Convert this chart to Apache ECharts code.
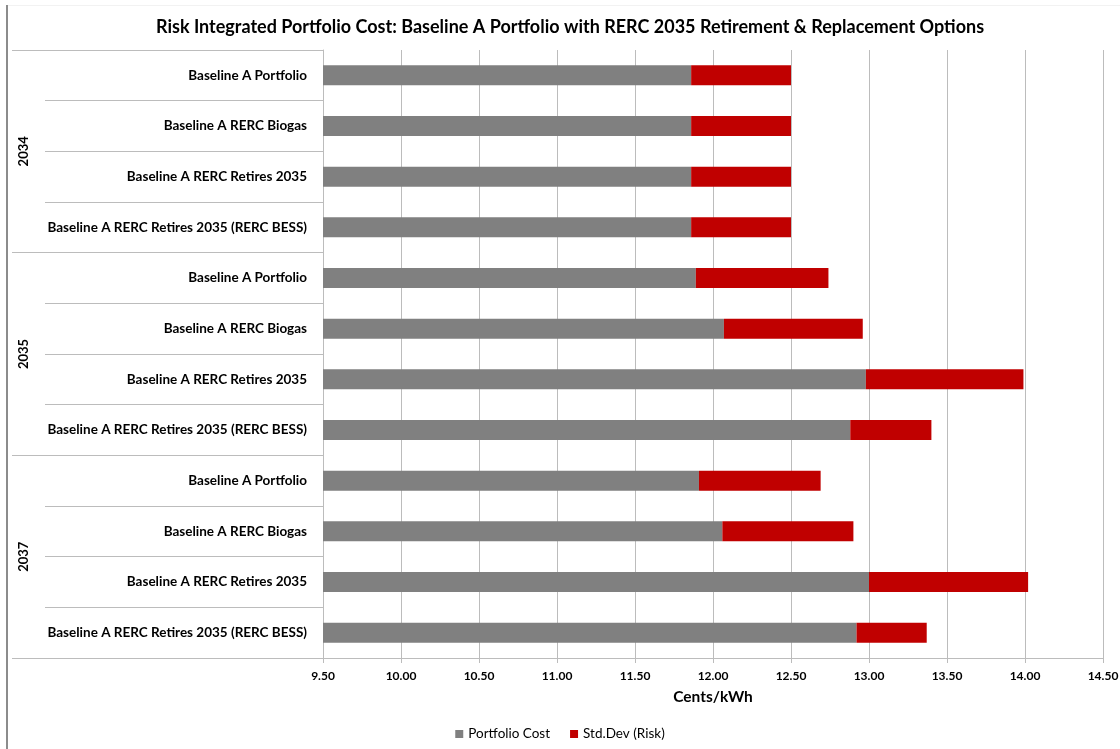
<!DOCTYPE html>
<html>
<head>
<meta charset="utf-8">
<script src="https://cdn.jsdelivr.net/npm/echarts@6/dist/echarts.min.js"></script>
<style>
  html, body { margin: 0; padding: 0; background: #fff; }
  #chart { position: absolute; left: 0; top: 0; width: 1120px; height: 749px; }
  #edge { position: absolute; left: 6px; top: 5px; width: 2px; height: 744px; background: #8c8c8c; }
  #topedge { position: absolute; left: 8px; top: 5px; width: 1112px; height: 1px; background: #f2f2f2; }
</style>
</head>
<body>
<div id="chart"></div>
<div id="edge"></div>
<div id="topedge"></div>
<script>
const years = ['2034', '2035', '2037'];
const options = ['Baseline A Portfolio', 'Baseline A RERC Biogas', 'Baseline A RERC Retires 2035', 'Baseline A RERC Retires 2035 (RERC BESS)'];
const portfolioCost = [11.86, 11.86, 11.86, 11.86, 11.89, 12.07, 12.98, 12.88, 11.91, 12.06, 13.00, 12.92];
const stdDevRisk = [0.64, 0.64, 0.64, 0.64, 0.85, 0.89, 1.01, 0.52, 0.78, 0.84, 1.02, 0.45];
const xTicks = { min: 9.5, max: 14.5, interval: 0.5 };

const catKeys = [];
years.forEach(y => options.forEach(o => catKeys.push(y + '|' + o)));

const FONT = 'Lato, "Open Sans", sans-serif';
const GRID_COLOR = '#bcbcbc';

const chart = echarts.init(document.getElementById('chart'));
chart.setOption({
  animation: false,
  textStyle: { fontFamily: FONT, color: '#000' },
  title: {
    text: 'Risk Integrated Portfolio Cost: Baseline A Portfolio with RERC 2035 Retirement & Replacement Options',
    left: 565, top: 13, textAlign: 'center',
    textStyle: { fontFamily: FONT, fontSize: 18, fontWeight: 'bold', color: '#000' }
  },
  legend: {
    top: 722, left: 'center',
    itemWidth: 8, itemHeight: 8, itemGap: 20,
    icon: 'rect',
    textStyle: { fontFamily: FONT, fontSize: 13.5, color: '#000' },
    data: ['Portfolio Cost', 'Std.Dev (Risk)']
  },
  grid: { left: 323, right: 17, top: 50, bottom: 91, containLabel: false, outerBoundsMode: 'none' },
  xAxis: {
    type: 'value',
    min: xTicks.min, max: xTicks.max, interval: xTicks.interval,
    name: 'Cents/kWh', nameLocation: 'middle', nameGap: 31,
    nameTextStyle: { fontFamily: FONT, fontSize: 15.5, fontWeight: 'bold', color: '#000' },
    axisLine: { show: true, lineStyle: { color: GRID_COLOR, width: 1 } },
    axisTick: { show: true, length: 5, lineStyle: { color: GRID_COLOR } },
    axisLabel: { formatter: v => v.toFixed(2), fontSize: 12, fontWeight: 'bold', color: '#000', margin: 12 },
    splitLine: { show: true, lineStyle: { color: GRID_COLOR, width: 1 } }
  },
  yAxis: [
    {
      type: 'category', inverse: true, data: catKeys, position: 'left',
      axisLine: { show: true, lineStyle: { color: GRID_COLOR } },
      axisTick: { show: true, length: 278, interval: 0, lineStyle: { color: GRID_COLOR } },
      axisLabel: {
        interval: 0, margin: 16, fontSize: 13.5, fontWeight: 'bold', color: '#000',
        formatter: v => v.split('|')[1]
      }
    },
    {
      type: 'category', inverse: true, data: years, position: 'left', offset: 0,
      axisLine: { show: false },
      axisTick: { show: true, length: 311, interval: 0, lineStyle: { color: GRID_COLOR } },
      axisLabel: { interval: 0, rotate: 90, margin: 293, fontSize: 13, fontWeight: 'bold', color: '#000' }
    }
  ],
  series: [
    {
      name: 'Portfolio Cost', type: 'bar', stack: 'total', yAxisIndex: 0,
      barWidth: 20, itemStyle: { color: '#808080' },
      data: portfolioCost
    },
    {
      name: 'Std.Dev (Risk)', type: 'bar', stack: 'total', yAxisIndex: 0,
      barWidth: 20, itemStyle: { color: '#c00000' },
      data: stdDevRisk
    }
  ]
});
</script>
</body>
</html>
